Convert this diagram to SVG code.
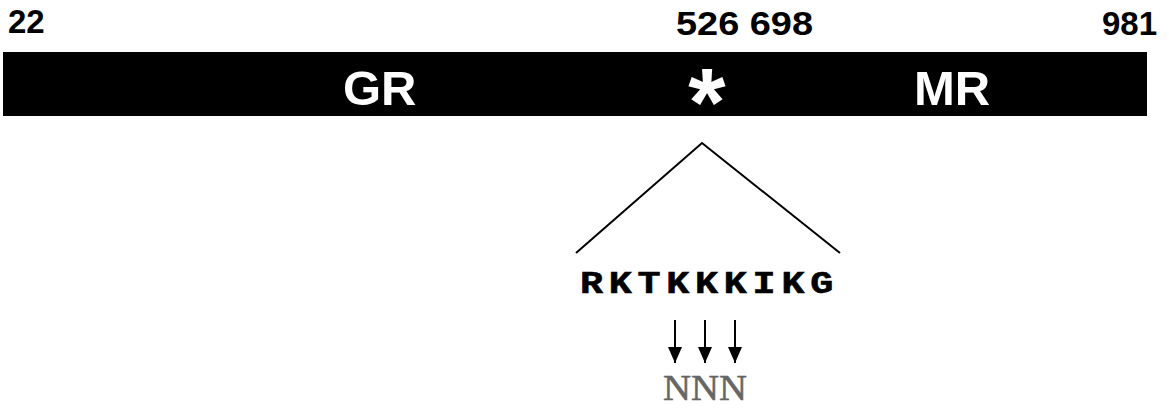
<svg xmlns="http://www.w3.org/2000/svg" width="1169" height="411" viewBox="0 0 1169 411">
  <style>
    .pos { font-family: "Liberation Sans", Arial, sans-serif; font-weight: bold; font-size: 33px; fill: #000; }
    .dom { font-family: "Liberation Sans", Arial, sans-serif; font-weight: bold; font-size: 49px; fill: #fff; }
    .star { font-family: "Liberation Sans", Arial, sans-serif; font-weight: bold; font-size: 96px; fill: #fff; }
    .seq { font-family: "Courier New", "Liberation Mono", monospace; font-weight: bold; font-size: 32px; fill: #000; stroke: #000; stroke-width: 0.6; }
    .mut { font-family: "Liberation Serif", "Times New Roman", serif; font-size: 35px; fill: #666; stroke: #666; stroke-width: 0.5; }
    .line { stroke: #000; stroke-width: 2; fill: none; }
  </style>
  <defs>
    <marker id="head" viewBox="0 0 16 14" refX="16" refY="7" markerWidth="16" markerHeight="14" markerUnits="userSpaceOnUse" orient="auto">
      <path d="M0,0 L16,7 L0,14 Z" fill="#000"/>
    </marker>
  </defs>
  <rect width="1169" height="411" fill="#fff"/>

  <!-- residue positions -->
  <g id="positions">
    <text class="pos" x="8" y="33">22</text>
    <text class="pos" x="676" y="35" textLength="137" lengthAdjust="spacingAndGlyphs">526 698</text>
    <text class="pos" x="1102" y="35">981</text>
  </g>

  <!-- receptor bar -->
  <g id="receptor">
    <rect x="3" y="52" width="1144" height="64" fill="#000"/>
    <text class="dom" x="343" y="105">GR</text>
    <text class="star" x="707" y="135" text-anchor="middle">*</text>
    <text class="dom" x="914" y="105">MR</text>
  </g>

  <!-- expansion of the marked site -->
  <g id="connectors">
    <polyline class="line" points="576,253 702,143 840,253"/>
    <line class="line" x1="675" y1="320" x2="675" y2="363" marker-end="url(#head)"/>
    <line class="line" x1="705" y1="320" x2="705" y2="363" marker-end="url(#head)"/>
    <line class="line" x1="735" y1="320" x2="735" y2="363" marker-end="url(#head)"/>
  </g>

  <!-- wide monospace sequence, widened glyphs plus tracking -->
  <g id="sequence" transform="translate(580,293) scale(1.2,1)">
    <text class="seq" x="0" y="0" textLength="211" lengthAdjust="spacing">RKTKKKIKG</text>
  </g>

  <g id="mutation">
    <text class="mut" x="663" y="400" textLength="84" lengthAdjust="spacingAndGlyphs">NNN</text>
  </g>
</svg>
